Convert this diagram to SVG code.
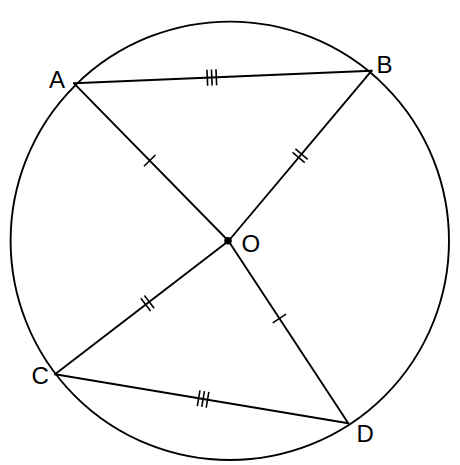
<svg xmlns="http://www.w3.org/2000/svg" xmlns:xlink="http://www.w3.org/1999/xlink" width="460" height="465" viewBox="0 0 460 465">
<style>
.ln{stroke:#000;stroke-width:1.9;fill:none;stroke-linecap:round}
.tk{stroke:#000;stroke-width:1.6;fill:none}
.lb{font-family:"Liberation Sans",Arial,sans-serif;font-size:24px;fill:#000}
</style>
<defs>
<g id="t1"><line class="tk" x1="0" y1="-8" x2="0" y2="8"/></g>
<g id="t2"><line class="tk" x1="-2.25" y1="-8" x2="-2.25" y2="8"/><line class="tk" x1="2.25" y1="-8" x2="2.25" y2="8"/></g>
<g id="t3"><line class="tk" x1="-4.5" y1="-8" x2="-4.5" y2="8"/><line class="tk" x1="0" y1="-8" x2="0" y2="8"/><line class="tk" x1="4.5" y1="-8" x2="4.5" y2="8"/></g>
</defs>
<rect width="460" height="465" fill="#fff"/>
<g id="circle"><circle class="ln" cx="229.8" cy="240.8" r="219.2"/></g>
<g id="connectors">
<line class="ln" x1="74" y1="83.3" x2="371.7" y2="70.7"/>
<line class="ln" x1="74" y1="83.3" x2="228.5" y2="241"/>
<line class="ln" x1="228.5" y1="241" x2="371.7" y2="70.7"/>
<line class="ln" x1="228.5" y1="241" x2="55" y2="374.3"/>
<line class="ln" x1="228.5" y1="241" x2="348.3" y2="423.3"/>
<line class="ln" x1="55" y1="374.3" x2="348.3" y2="423.3"/>
<use xlink:href="#t3" transform="translate(211.8,77.5) rotate(-2.42)"/>
<use xlink:href="#t1" transform="translate(149.7,160.6) rotate(45.59)"/>
<use xlink:href="#t2" transform="translate(300.1,155.85) rotate(-49.94)"/>
<use xlink:href="#t2" transform="translate(147.5,303.25) rotate(-37.54)"/>
<use xlink:href="#t1" transform="translate(279.4,318.5) rotate(56.69)"/>
<use xlink:href="#t3" transform="translate(203.1,399.0) rotate(9.48)"/>
</g>
<g id="A"><text class="lb" x="49" y="88">A</text></g>
<g id="B"><text class="lb" x="376.5" y="72.5">B</text></g>
<g id="O"><circle cx="228" cy="240.8" r="3.8" fill="#000"/><text class="lb" x="241.5" y="252">O</text></g>
<g id="C"><text class="lb" x="31.5" y="384">C</text></g>
<g id="D"><text class="lb" x="356.5" y="441.5">D</text></g>
</svg>
